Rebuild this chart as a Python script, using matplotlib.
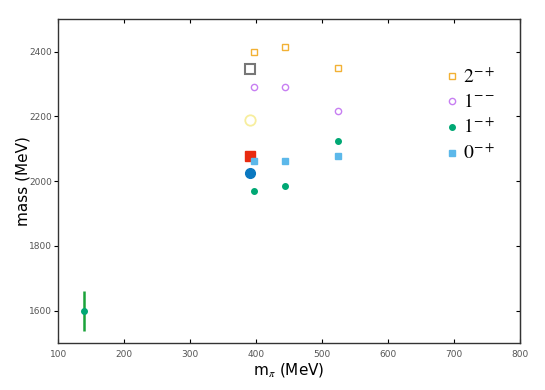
import matplotlib
matplotlib.use('Agg')
from matplotlib import pyplot as plt
from matplotlib.lines import Line2D

plt.rcParams['mathtext.fontset'] = 'stix'

# lattice points, m_pi = 391 MeV (big markers)
big_x = [391, 391, 391, 391]
big_y = [2347, 2189, 2077, 2025]

# smaller-volume / other lattice points
mpi = [396, 444, 524]
mass_2mp = [2398, 2414, 2350]
mass_1mm = [2291, 2291, 2216]
mass_1mp = [1969, 1984, 2123]
mass_0mp = [2062, 2062, 2077]

# experimental pi1(1600)
exp_x = [139]
exp_y = [1600]
exp_err = [62]

orange = '#f2b134'
purple = '#c77ff2'
green = '#00a874'
blue = '#5cb8ea'

fig = plt.figure(figsize=(5.45, 3.9), dpi=100)
ax = fig.add_axes([0.107, 0.12, 0.847, 0.831])

ax.errorbar(exp_x, exp_y, yerr=exp_err, fmt='o', color='#1aa33a', ms=4,
            mfc=green, mec=green, elinewidth=1.8, capsize=0)

ax.plot(big_x[0], big_y[0], 's', ms=7.5, mfc='none', mec='#777777', mew=1.5)
ax.plot(big_x[1], big_y[1], 'o', ms=7.5, mfc='none', mec='#f7ee9e', mew=1.3)
ax.plot(big_x[2], big_y[2], 's', ms=7.5, color='#e82a10')
ax.plot(big_x[3], big_y[3], 'o', ms=7, color='#0a78c0')

ax.plot(mpi, mass_2mp, 's', ls='none', ms=4.5, mfc='none', mec=orange, mew=1)
ax.plot(mpi, mass_1mm, 'o', ls='none', ms=4.5, mfc='none', mec=purple, mew=1)
ax.plot(mpi, mass_1mp, 'o', ls='none', ms=4, color=green)
ax.plot(mpi, mass_0mp, 's', ls='none', ms=4.5, color=blue)

handles = [
    Line2D([], [], marker='s', ls='none', ms=4.5, mfc='none', mec=orange, mew=1),
    Line2D([], [], marker='o', ls='none', ms=4.5, mfc='none', mec=purple, mew=1),
    Line2D([], [], marker='o', ls='none', ms=4, color=green),
    Line2D([], [], marker='s', ls='none', ms=4.5, color=blue),
]
labels = ['$2^{-+}$', '$1^{--}$', '$1^{-+}$', '$0^{-+}$']
ax.legend(handles, labels, loc='upper right', bbox_to_anchor=(0.985, 0.905),
          frameon=False, prop={'family': 'serif', 'size': 14},
          handlelength=0.6, handletextpad=0.3, labelspacing=0.33)

ax.set_xlim(100, 800)
ax.set_ylim(1500, 2500)
ax.set_xticks(range(100, 801, 100))
ax.set_yticks(range(1600, 2401, 200))
ax.tick_params(axis='x', direction='in', length=3, labelsize=6.5, labelcolor='#555555',
               pad=5, top=True)
ax.tick_params(axis='y', direction='out', length=3, labelsize=6.5, labelcolor='#555555', pad=1.5)

# right side ticks point inward
sec = ax.secondary_yaxis('right')
sec.set_yticks(range(1600, 2401, 200))
sec.tick_params(direction='in', length=3, labelright=False)
sec.spines['right'].set_color('#333333')

for s in ax.spines.values():
    s.set_color('#333333')
    s.set_linewidth(1.0)

ax.set_xlabel(r'm$_\pi$ (MeV)', fontsize=11, family='DejaVu Sans', labelpad=1)
ax.set_ylabel('mass (MeV)', fontsize=11, family='DejaVu Sans')
ax.yaxis.set_label_coords(-0.06, 0.5)

fig.savefig('out.png', dpi=100)
